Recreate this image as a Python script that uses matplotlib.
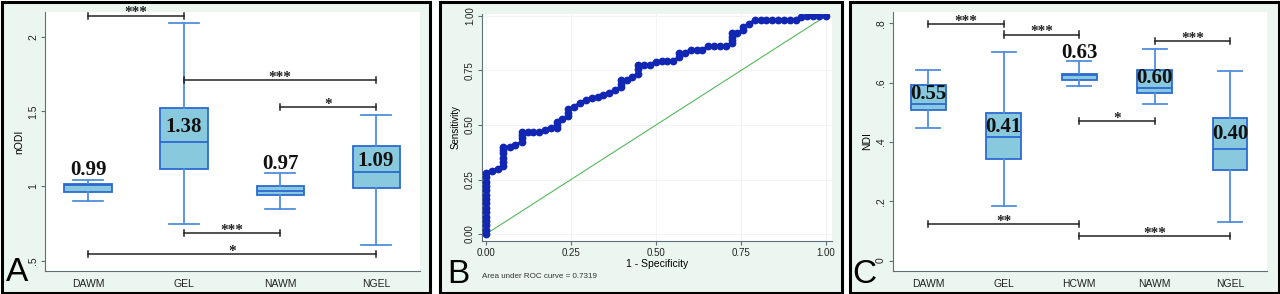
import matplotlib
matplotlib.use("Agg")
import matplotlib.pyplot as plt
from matplotlib.patches import Rectangle

# ---- data ----
groups_a = ['DAWM', 'GEL', 'NAWM', 'NGEL']
a_low = [0.902, 0.743, 0.848, 0.605]
a_q1 = [0.958, 1.116, 0.940, 0.989]
a_med = [1.005, 1.295, 0.966, 1.092]
a_q3 = [1.013, 1.520, 1.000, 1.266]
a_high = [1.040, 2.094, 1.087, 1.473]
a_means = ['0.99', '1.38', '0.97', '1.09']
a_label_y = [1.107, 1.393, 1.145, 1.167]
# brackets: (from, to, y, stars)
a_brackets = [(1, 2, 2.14, '***'), (2, 4, 1.71, '***'), (3, 4, 1.53, '*'),
              (2, 3, 0.683, '***'), (1, 4, 0.545, '*')]

groups_c = ['DAWM', 'GEL', 'HCWM', 'NAWM', 'NGEL']
c_low = [0.447, 0.184, 0.587, 0.529, 0.130]
c_q1 = [0.509, 0.342, 0.608, 0.565, 0.307]
c_med = [0.528, 0.415, 0.627, 0.583, 0.376]
c_q3 = [0.591, 0.497, 0.630, 0.644, 0.481]
c_high = [0.644, 0.703, 0.673, 0.712, 0.638]
c_means = ['0.55', '0.41', '0.63', '0.60', '0.40']
c_label_y = [0.561, 0.450, 0.700, 0.616, 0.428]
c_brackets = [(1, 2, 0.798, '***'), (2, 3, 0.762, '***'), (4, 5, 0.740, '***'),
              (3, 4, 0.470, '*'), (1, 3, 0.123, '**'), (3, 5, 0.082, '***')]

roc_fpr = [0, 0, 0, 0, 0, 0, 0, 0, 0, 0, 0, 0, 0, 0, 0,
           0.017, 0.034, 0.051, 0.051, 0.051, 0.051, 0.051, 0.051,
           0.069, 0.086, 0.105, 0.105, 0.105, 0.105,
           0.123, 0.139, 0.157, 0.174, 0.191,
           0.208, 0.208, 0.208, 0.224, 0.242, 0.242, 0.242,
           0.259, 0.276, 0.293, 0.311, 0.328, 0.345, 0.362, 0.379,
           0.397, 0.397, 0.397, 0.414, 0.430, 0.448, 0.448, 0.448,
           0.465, 0.482, 0.499, 0.517, 0.533, 0.551,
           0.568, 0.568, 0.585, 0.602, 0.620, 0.636, 0.654, 0.671, 0.688, 0.705,
           0.723, 0.723, 0.723, 0.723, 0.739, 0.757, 0.757, 0.774, 0.791,
           0.808, 0.825, 0.842, 0.860, 0.876, 0.894, 0.911, 0.928, 0.945, 0.963, 0.979, 1.0]
roc_tpr = [0.0, 0.02, 0.04, 0.06, 0.08, 0.10, 0.12, 0.14, 0.16, 0.18, 0.20, 0.22, 0.24, 0.26, 0.278,
           0.29, 0.30, 0.31, 0.33, 0.35, 0.37, 0.385, 0.40,
           0.40, 0.41, 0.42, 0.44, 0.455, 0.466,
           0.466, 0.466, 0.466, 0.478, 0.485,
           0.485, 0.50, 0.515, 0.527, 0.54, 0.555, 0.572,
           0.584, 0.60, 0.615, 0.622, 0.630, 0.638, 0.645, 0.66,
           0.675, 0.69, 0.706, 0.706, 0.72, 0.735, 0.755, 0.775,
           0.775, 0.775, 0.79, 0.794, 0.794, 0.794,
           0.81, 0.83, 0.832, 0.844, 0.844, 0.844, 0.86, 0.862, 0.862, 0.862,
           0.875, 0.89, 0.905, 0.92, 0.92, 0.935, 0.951, 0.963, 0.982,
           0.982, 0.982, 0.982, 0.982, 0.982, 0.982, 0.982, 0.994, 1.0, 1.0, 1.0, 1.0]
roc_ticks = [0, 0.25, 0.5, 0.75, 1.0]
roc_ticklabels = ['0.00', '0.25', '0.50', '0.75', '1.00']
auc_text = 'Area under ROC curve = 0.7319'

# ---- style ----
W, H = 1280, 294
panel_bg = '#ebf6f0'
box_fill = '#88c9de'
box_edge = '#2c6ad0'
whisk_col = '#4f8fdc'
spine_col = '#5f6f78'
sans = 'Liberation Sans'
serif = 'Liberation Serif'

fig = plt.figure(figsize=(W / 100, H / 100), dpi=100)


def px_axes(x0, y0, x1, y1):
    ax = fig.add_axes([x0 / W, 1 - y1 / H, (x1 - x0) / W, (y1 - y0) / H])
    ax.set_zorder(2)
    return ax


def panel(x0, y0, x1, y1):
    fig.patches.append(Rectangle((x0 / W, 1 - y1 / H), (x1 - x0) / W, (y1 - y0) / H,
                                 transform=fig.transFigure, facecolor=panel_bg,
                                 edgecolor='black', linewidth=2.2, zorder=-1))


panel(1.5, 1.5, 430, 292.5)
panel(440, 1.5, 842, 292.5)
panel(849.5, 1.5, 1278.5, 292.5)


def style_axes(ax):
    for s in ['top', 'right']:
        ax.spines[s].set_visible(False)
    for s in ['left', 'bottom']:
        ax.spines[s].set_color(spine_col)
        ax.spines[s].set_linewidth(0.8)
    ax.tick_params(axis='y', length=3, width=0.8, color=spine_col, labelsize=7.5,
                   labelcolor='#222222', pad=2)
    for lab in ax.get_yticklabels():
        lab.set_rotation(90)
        lab.set_va('center')
        lab.set_family(sans)


def boxpanel(ax, groups, low, q1, med, q3, high, means, label_y, brackets, width):
    stats = []
    for i in range(len(groups)):
        stats.append({'whislo': low[i], 'q1': q1[i], 'med': med[i], 'q3': q3[i],
                      'whishi': high[i], 'fliers': []})
    pos = list(range(1, len(groups) + 1))
    ax.bxp(stats, positions=pos, widths=width, capwidths=0.32, patch_artist=True,
           showfliers=False,
           boxprops=dict(facecolor=box_fill, edgecolor=box_edge, linewidth=1.3),
           medianprops=dict(color=box_edge, linewidth=1.3),
           whiskerprops=dict(color=whisk_col, linewidth=1.3),
           capprops=dict(color=whisk_col, linewidth=1.3))
    for i, (txt, y) in enumerate(zip(means, label_y)):
        ax.text(pos[i], y, txt, ha='center', va='center', family=serif,
                fontweight='bold', fontsize=15, color='#111111', zorder=5)
    yr = ax.get_ylim()
    cap = (yr[1] - yr[0]) * 0.012
    for a, b, y, st in brackets:
        ax.plot([a, b], [y, y], color='#222222', lw=1.1, zorder=4)
        ax.plot([a, a], [y - cap, y + cap], color='#222222', lw=1.1, zorder=4)
        ax.plot([b, b], [y - cap, y + cap], color='#222222', lw=1.1, zorder=4)
        # asterisks sit high in the glyph box, so anchor the baseline near the line
        ax.annotate(st, xy=((a + b) / 2, y), xytext=(0, -0.5), textcoords='offset points',
                    ha='center', va='baseline', family=serif, fontweight='bold',
                    fontsize=11, color='#222222', zorder=5)
    ax.set_xticks(pos)
    ax.set_xticklabels(groups, family=sans, fontsize=7.5, color='#222222')
    ax.tick_params(axis='x', length=0, pad=6)


# ---- panel A ----
axA = px_axes(45, 12, 420, 271)
axA.set_xlim(0.552, 4.458)
axA.set_ylim(0.431, 2.165)
boxpanel(axA, groups_a, a_low, a_q1, a_med, a_q3, a_high, a_means, a_label_y,
         a_brackets, 0.49)
axA.set_yticks([0.5, 1, 1.5, 2])
axA.set_yticklabels(['.5', '1', '1.5', '2'])
axA.set_ylabel('nODI', family=sans, fontsize=7.5, labelpad=3)
style_axes(axA)
fig.text(6 / W, 1 - 281 / H, 'A', family=sans, fontsize=24, va='baseline')

# ---- panel B ----
axB = px_axes(482, 14, 832, 241)
axB.set_xlim(-0.012, 1.018)
axB.set_ylim(-0.032, 1.009)
axB.grid(True, color='#f1f4f3', lw=0.7)
axB.set_axisbelow(True)
axB.plot([0, 1], [0, 1], color='#55b85a', lw=0.8, zorder=2)
axB.plot(roc_fpr, roc_tpr, color='#1226b4', lw=2.2, marker='o', markersize=5.6,
         markeredgewidth=0, zorder=3)
axB.set_xticks(roc_ticks)
axB.set_xticklabels(roc_ticklabels, family=sans, fontsize=7, color='#222222')
axB.set_yticks(roc_ticks)
axB.set_yticklabels(roc_ticklabels)
axB.tick_params(axis='x', length=3, width=0.8, color=spine_col, pad=2)
style_axes(axB)
for lab in axB.get_yticklabels():
    lab.set_fontsize(7)
axB.set_xlabel('1 - Specificity', family=sans, fontsize=7.5, labelpad=1)
axB.set_ylabel('Sensitivity', family=sans, fontsize=7, labelpad=3)
fig.text(447 / W, 1 - 283 / H, 'B', family=sans, fontsize=24, va='baseline')
fig.text(482 / W, 1 - 276 / H, auc_text, family=sans, fontsize=5.8, va='center',
         color='#333333')

# ---- panel C ----
axC = px_axes(893, 12, 1267, 271)
axC.set_xlim(0.532, 5.49)
axC.set_ylim(-0.035, 0.838)
boxpanel(axC, groups_c, c_low, c_q1, c_med, c_q3, c_high, c_means, c_label_y,
         c_brackets, 0.46)
axC.set_yticks([0, 0.2, 0.4, 0.6, 0.8])
axC.set_yticklabels(['0', '.2', '.4', '.6', '.8'])
axC.set_ylabel('NDI', family=sans, fontsize=7.5, labelpad=3)
style_axes(axC)
fig.text(852 / W, 1 - 283 / H, 'C', family=sans, fontsize=24, va='baseline')

fig.savefig('out.png', dpi=100)
